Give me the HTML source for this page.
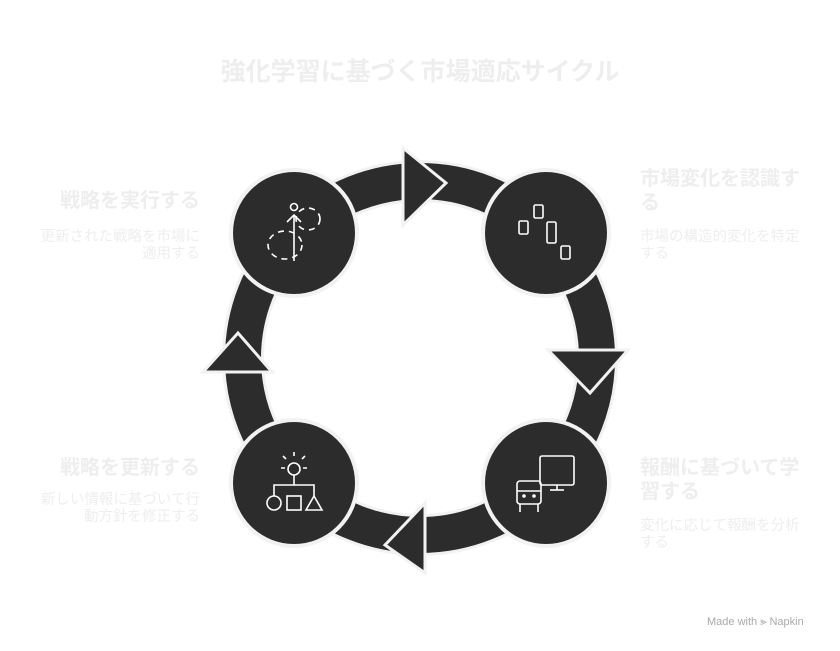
<!DOCTYPE html>
<html><head><meta charset="utf-8"><style>
body{margin:0;width:840px;height:651px;background:#fff;overflow:hidden;position:relative;font-family:"Liberation Sans","Noto Sans CJK JP",sans-serif}
.t{position:absolute;color:#eeeeee;white-space:nowrap}
.h{font-weight:bold;font-size:20px;line-height:24px}
.d{font-size:14.5px;line-height:17px}
.r{text-align:right}
</style></head><body>
<div class="t" style="left:0;width:840px;text-align:center;top:52px;font-size:25px;font-weight:bold;color:#eee">強化学習に基づく市場適応サイクル</div>
<div class="t h r" style="right:640px;top:189px">戦略を実行する</div>
<div class="t d r" style="right:640px;top:229px">更新された戦略を市場に<br>適用する</div>
<div class="t h" style="left:640px;top:167px">市場変化を認識す<br>る</div>
<div class="t d" style="left:640px;top:229px">市場の構造的変化を特定<br>する</div>
<div class="t h r" style="right:640px;top:456px">戦略を更新する</div>
<div class="t d r" style="right:640px;top:492px">新しい情報に基づいて行<br>動方針を修正する</div>
<div class="t h" style="left:640px;top:456px">報酬に基づいて学<br>習する</div>
<div class="t d" style="left:640px;top:518px">変化に応じて報酬を分析<br>する</div>
<div class="t" style="left:707px;top:616px;font-size:11px;color:#aaa">Made with ⪢ Napkin</div>
<svg width="840" height="651" style="position:absolute;left:0;top:0">
<circle cx="420" cy="358" r="177" fill="none" stroke="#f2f2f2" stroke-width="42"/>
<circle cx="420" cy="358" r="177" fill="none" stroke="#2c2c2c" stroke-width="36"/>
<g fill="#2c2c2c" stroke="#f2f2f2" stroke-width="3" stroke-linejoin="miter">
<polygon points="403,148 446,183 403,225"/>
<polygon points="548,350 628,350 590,393"/>
<polygon points="425,503 425,573 385,545"/>
<polygon points="203,372 272,372 238,333"/>
</g>
<g fill="#2c2c2c" stroke="#f2f2f2" stroke-width="4">
<circle cx="294" cy="233" r="63"/><circle cx="546" cy="233" r="63"/>
<circle cx="294" cy="483" r="63"/><circle cx="546" cy="483" r="63"/>
</g>
<g fill="none" stroke="#fff" stroke-width="1.6">
<circle cx="294" cy="207" r="3.5"/>
<line x1="294" y1="215" x2="294" y2="261"/><polyline points="287,222 294,215 301,222"/>
<ellipse cx="308" cy="219" rx="12" ry="11" stroke-dasharray="6 5"/>
<ellipse cx="285" cy="245" rx="17" ry="14" stroke-dasharray="6 5"/>
<rect x="519" y="221" width="9" height="13" rx="1.5"/><rect x="534" y="205" width="9" height="13" rx="1.5"/>
<rect x="547" y="222" width="9" height="21" rx="1.5"/><rect x="561" y="246" width="9" height="13" rx="1.5"/>
<circle cx="294" cy="469" r="6"/><line x1="294" y1="475" x2="294" y2="485"/>
<path d="M283,456 l3,3 M294,452 v4 M305,456 l-3,3 M281,468 h4 M303,468 h4"/>
<polyline points="274,496 274,485 314,485 314,496"/>
<circle cx="274" cy="503" r="7"/><rect x="287" y="496" width="14" height="14"/><polygon points="314,496 322,510 306,510"/>
<rect x="540" y="456" width="34" height="29" rx="2"/><line x1="557" y1="485" x2="557" y2="490"/><line x1="550" y1="490" x2="564" y2="490"/>
<rect x="517" y="481" width="24" height="23" rx="3"/><line x1="517" y1="491" x2="541" y2="491"/>
<circle cx="524" cy="496" r="1"/><circle cx="534" cy="496" r="1"/>
<line x1="520" y1="504" x2="520" y2="512"/><line x1="538" y1="504" x2="538" y2="512"/>
</g>
</svg>
</body></html>
